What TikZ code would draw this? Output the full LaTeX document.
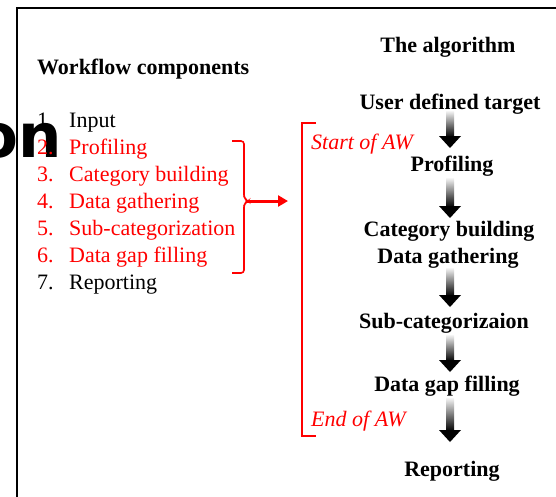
\documentclass[tikz,border=0pt]{standalone}
\usepackage{fontspec}
\setmainfont{Liberation Serif}
\newfontfamily\onfont{DejaVu Sans}
\usetikzlibrary{arrows.meta,calc}
\newcommand\garrow[4]{%
  \shade[top color=gray!8, bottom color=black]
    let \p1=(#1.base), \p2=(#2.base) in
    (446pt,{\y1-#3pt}) rectangle (454pt,{\y2+#4pt+11pt});
  \fill[black]
    let \p1=(#1.base), \p2=(#2.base) in
    (439pt,{\y2+#4pt+12pt}) -- (461pt,{\y2+#4pt+12pt}) -- (450pt,{\y2+#4pt}) -- cycle;
}
\begin{document}
\begin{tikzpicture}[x=1pt,y=-1pt,
  txt/.style={inner sep=0pt, anchor=base west, font=\fontsize{22}{26}\selectfont},
  redtxt/.style={txt, text=red},
  aw/.style={txt, text=red, font=\fontsize{22}{26}\selectfont\itshape},
  head/.style={inner sep=0pt, anchor=base west, font=\fontsize{22}{26}\selectfont\bfseries},
  algo/.style={inner sep=0pt, anchor=base, font=\fontsize{22}{26}\selectfont\bfseries},
  frame/.style={line width=2.5pt, black},
  redline/.style={red, line width=1.8pt}]
\useasboundingbox (0,0) rectangle (556,496);
% stray fragment
\node[inner sep=0pt, anchor=base west, font=\onfont\bfseries\fontsize{61}{61}\selectfont] (frag) at (-23.5,157) {on};
% frame
\draw[frame] (17,500) -- (17,8) -- (560,8);
% headings
\node[head] (wc) at (37,74) {Workflow components};
\node[algo] (alg) at (448,52) {The algorithm};
% list
\node[txt] (n1) at (37,127) {1.};   \node[txt] (i1) at (69,127) {Input};
\node[redtxt] (n2) at (37,154) {2.}; \node[redtxt] (i2) at (69,154) {Profiling};
\node[redtxt] (n3) at (37,181) {3.}; \node[redtxt] (i3) at (69,181) {Category building};
\node[redtxt] (n4) at (37,208) {4.}; \node[redtxt] (i4) at (69,208) {Data gathering};
\node[redtxt] (n5) at (37,235) {5.}; \node[redtxt] (i5) at (69,235) {Sub-categorization};
\node[redtxt] (n6) at (37,262) {6.}; \node[redtxt] (i6) at (69,262) {Data gap filling};
\node[txt] (n7) at (37,289) {7.};   \node[txt] (i7) at (69,289) {Reporting};
% brace and arrow
\draw[red, line width=1.6pt, rounded corners=3pt] (232,141) -- (244,141) -- (244,198) -- (248,201) -- (244,204) -- (244,273) -- (232,273);
\coordinate (bt) at (247,201);
\coordinate (bk) at (288,201);
\draw[red, line width=3pt, -{Triangle[length=10pt,width=11pt]}] (bt) -- (bk);
% big bracket
\draw[redline] (316,123) -- (302,123) -- (302,436) -- (316,436);
\node[aw] (saw) at (311,149) {Start of AW};
\node[aw] (eaw) at (311,426) {End of AW};
% algorithm column
\node[algo] (a0) at (450,109) {User defined target};
\node[algo] (a1) at (452,171) {Profiling};
\node[algo] (a2) at (449,236) {Category building};
\node[algo] (a3) at (448,263) {Data gathering};
\node[algo] (a4) at (444,328) {Sub-categorizaion};
\node[algo] (a5) at (447,391) {Data gap filling};
\node[algo] (a6) at (452,476) {Reporting};
\garrow{a0}{a1}{2}{23}
\garrow{a1}{a2}{7}{18}
\garrow{a3}{a4}{5}{21}
\garrow{a4}{a5}{7}{19}
\garrow{a5}{a6}{7}{34}
\end{tikzpicture}
\end{document}
